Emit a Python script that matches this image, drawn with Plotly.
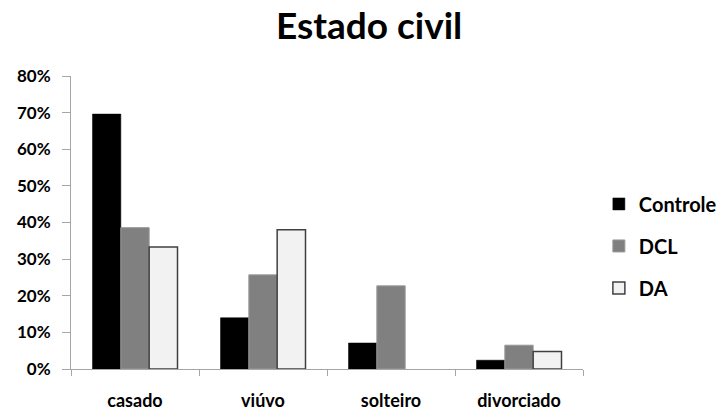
import plotly.graph_objects as go

categories = ["casado", "viúvo", "solteiro", "divorciado"]
controle = [0.696, 0.14, 0.071, 0.024]
dcl = [0.386, 0.257, 0.227, 0.065]
da = [0.333, 0.38, 0.0, 0.048]
tick_vals = [0, 0.1, 0.2, 0.3, 0.4, 0.5, 0.6, 0.7, 0.8]

FONT = "Lato"

fig = go.Figure()
fig.add_trace(go.Bar(x=categories, y=controle, name="Controle", legendgroup="a",
                     marker=dict(color="#000000", line=dict(color="#000000", width=0.5))))
fig.add_trace(go.Bar(x=categories, y=dcl, name="DCL", legendgroup="b",
                     marker=dict(color="#808080", line=dict(color="#9a9a9a", width=1))))
fig.add_trace(go.Bar(x=categories, y=da, name="DA", legendgroup="c",
                     marker=dict(color="#f2f2f2",
                                 line=dict(color="#404040",
                                           width=[1.5 if v > 0 else 0 for v in da]))))

fig.update_layout(
    width=728, height=414,
    paper_bgcolor="white", plot_bgcolor="white",
    margin=dict(l=71, r=145, t=76, b=45, autoexpand=False),
    barmode="group", bargap=0.336, bargroupgap=0,
    font=dict(family=FONT, color="#000000", weight="bold"),
    title=dict(text="Estado civil", x=0.507, xanchor="center", xref="container",
               y=0.937, yanchor="middle",
               font=dict(family=FONT, size=37, weight="bold", color="#000000")),
    legend=dict(x=1.031, y=0.42, xanchor="left", yanchor="middle",
                tracegroupgap=13, traceorder="grouped",
                font=dict(family=FONT, size=20, weight="bold")),
    showlegend=True,
)
fig.update_xaxes(showline=True, linecolor="#a6a6a6", linewidth=1,
                 ticks="outside", tickson="boundaries", ticklen=6, tickcolor="#a6a6a6",
                 ticklabelstandoff=15,
                 tickfont=dict(family=FONT, size=18, weight="bold"), showgrid=False,
                 range=[-0.5, 3.5])
fig.update_yaxes(range=[0, 0.8], tickvals=tick_vals, tickformat=".0%",
                 showline=True, linecolor="#a6a6a6", linewidth=1,
                 ticks="outside", ticklen=8, tickcolor="#a6a6a6",
                 ticklabelstandoff=8,
                 tickfont=dict(family=FONT, size=17, weight="bold"),
                 showgrid=False, zeroline=False)

# remove the default 8px page margin so the 728x414 figure fills the window
fig.write_html("out.html",
               config={"displayModeBar": False},
               post_script="document.body.style.margin='0';document.body.style.overflow='hidden';")
